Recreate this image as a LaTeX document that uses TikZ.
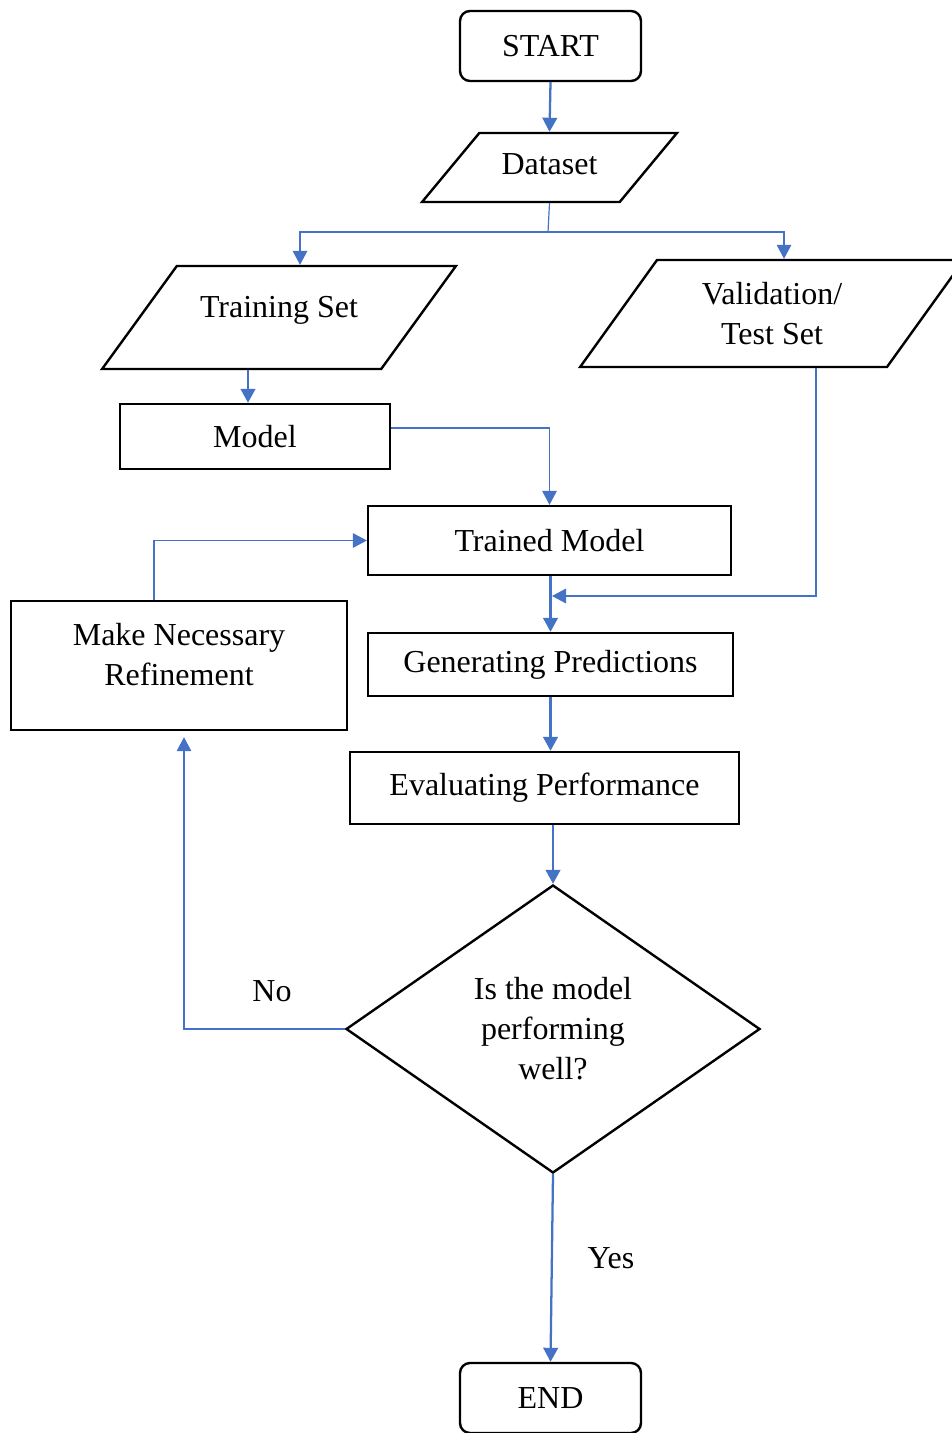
\documentclass[tikz,border=0pt]{standalone}
\usepackage{fontspec}
\setmainfont{Liberation Serif}
\usetikzlibrary{shapes.geometric,arrows.meta}
\definecolor{c4472c4}{RGB}{68,114,196}
\def \globalscale {1.000000}

\begin{document}
\begin{tikzpicture}[x=0.75pt, y={(0pt,-0.75pt)}, xscale=\globalscale, yscale=\globalscale,
  every node/.append style={font=\fontsize{24}{30}\selectfont, align=center, inner sep=2pt},
  flowbox/.style={draw=black, line width=1.8pt},
  termbox/.style={flowbox, rounded corners=7.5pt},
  iobox/.style={flowbox, trapezium, trapezium stretches=true},
  thinlink/.style={draw=c4472c4, line width=0.9pt, -{Triangle[length=10.5pt,width=11pt]}},
  flowlink/.style={thinlink, line width=1.7pt}]
  \useasboundingbox (0,0) rectangle (951,1433);

  \node[termbox, minimum width=135.75pt, minimum height=52.5pt] (start) at (550.5, 46){START};

  \node[iobox, trapezium left angle=59.1, trapezium right angle=120.9, minimum width=191.25pt,
  text height=16pt, text depth=5pt, inner ysep=15.375pt] (dataset) at (549.5, 167.5){Dataset};

  \node[iobox, trapezium left angle=59.9, trapezium right angle=120.1, minimum width=265.5pt,
  text height=11pt, text depth=11pt, inner ysep=27.6pt] (trainset) at (279, 317.5){Training Set};

  \node[iobox, trapezium left angle=54.3, trapezium right angle=125.7, minimum width=288pt,
  minimum height=80.25pt] (valset) at (772, 313.5){Validation/\\Test Set};

  \node[flowbox, minimum width=202.5pt, minimum height=48.75pt] (model) at (255, 436.5){Model};

  \node[flowbox, minimum width=272.25pt, minimum height=51.75pt] (trained) at (549.5, 540.5){Trained Model};

  \node[flowbox, minimum width=273.75pt, minimum height=47.25pt] (genpred) at (550.5, 664.5){Generating Predictions};

  \node[flowbox, minimum width=291.75pt, minimum height=54pt] (evalperf) at (544.5, 788){Evaluating Performance};

  \node[flowbox, minimum width=252pt, minimum height=96.75pt] (refine) at (179, 665.5){};
  \node (refinetext) at (179, 655){Make Necessary\\Refinement};

  \node[flowbox, diamond, aspect=1.44, minimum width=310.5pt, minimum height=216pt] (decision) at (553, 1029){Is the model\\performing\\well?};

  \node[termbox, minimum width=135.75pt, minimum height=52.5pt] (end) at (550.5, 1398){END};

  \node (nolbl) at (272, 991){No};
  \node (yeslbl) at (611, 1258){Yes};

  \coordinate (split) at (548, 232);
  \coordinate (merge) at (552, 596);
  \coordinate (modelin) at ([xshift=-5.25pt]model.north);

  \draw[flowlink] (start.south) -- (dataset.north);
  \draw[thinlink, -] (dataset.south) -- (split);
  \draw[thinlink] (split) -| ([xshift=15.75pt]trainset.north);
  \draw[thinlink] (split) -| ([xshift=9pt]valset.north);
  \draw[flowlink] (trainset.south -| modelin) -- (modelin);
  \draw[thinlink] ([yshift=6.4pt]model.east) -| (trained.north);
  \draw[flowlink] (trained.south -| genpred.north) -- (genpred.north);
  \draw[thinlink] ([xshift=33pt]valset.south) |- (merge);
  \draw[flowlink] (genpred.south) -- (genpred.south |- evalperf.north);
  \draw[flowlink] (evalperf.south -| decision.north) -- (decision.north);
  \draw[thinlink, shorten >=4.5pt] (decision.west) -| ([xshift=3.75pt]refine.south);
  \draw[thinlink] ([xshift=-18.75pt]refine.north) |- (trained.west);
  \draw[flowlink] (decision.south) -- (end.north);

\end{tikzpicture}
\end{document}
